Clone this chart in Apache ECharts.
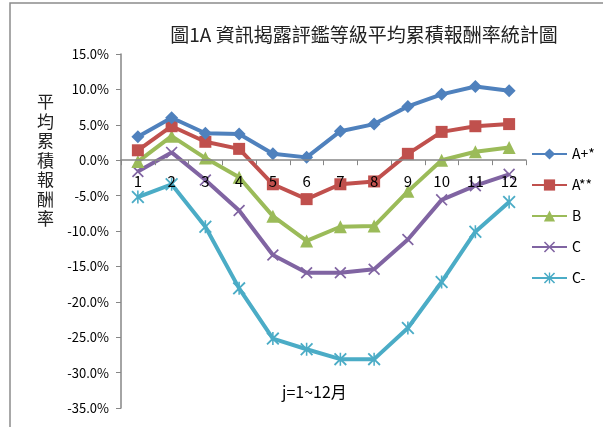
<!DOCTYPE html>
<html>
<head>
<meta charset="utf-8">
<script src="https://cdn.jsdelivr.net/npm/echarts@6/dist/echarts.min.js"></script>
<style>
    html, body { margin: 0; padding: 0; background: #fff; }
    #main { width: 603px; height: 427px; }
</style>
</head>
<body>
<div id="main"></div>
<script>
// months 1..12
var months = ['1', '2', '3', '4', '5', '6', '7', '8', '9', '10', '11', '12'];

// average cumulative return (%) per rating grade
var gradeAplus = [3.3, 6.0, 3.8, 3.7, 0.9, 0.4, 4.1, 5.1, 7.6, 9.3, 10.4, 9.8];
var gradeA = [1.4, 4.8, 2.6, 1.6, -3.4, -5.5, -3.4, -3.0, 0.9, 4.0, 4.8, 5.1];
var gradeB = [-0.2, 3.4, 0.3, -2.4, -7.9, -11.4, -9.4, -9.3, -4.4, 0.0, 1.2, 1.8];
var gradeC = [-1.6, 1.1, -2.8, -7.1, -13.4, -15.9, -15.9, -15.4, -11.2, -5.6, -3.6, -2.0];
var gradeCminus = [-5.2, -3.4, -9.4, -18.1, -25.2, -26.7, -28.1, -28.1, -23.7, -17.2, -10.1, -5.9];

var seriesNames = ['A+*', 'A**', 'B', 'C', 'C-'];
var colors = ['#4F81BD', '#C0504D', '#9BBB59', '#8064A2', '#4BACC6'];

var xMark = 'path://M0,1 L1,0 L5,4 L9,0 L10,1 L6,5 L10,9 L9,10 L5,6 L1,10 L0,9 L4,5 Z';
var starMark = 'path://M0,1 L1,0 L5,4 L9,0 L10,1 L6,5 L10,9 L9,10 L5,6 L1,10 L0,9 L4,5 Z M4.4,0 L5.6,0 L5.6,10 L4.4,10 Z';

var symbols = [
    { type: 'diamond', size: 13 },
    { type: 'rect', size: 12 },
    { type: 'triangle', size: 13 },
    { type: xMark, size: 12 },
    { type: starMark, size: 13 }
];

var font = '"Noto Sans CJK TC", "Noto Sans", sans-serif';

// y range of the grid, used to lift the category axis up to 0%
var yMin = -35, yMax = 15;
var gridTop = 54, gridBottom = 19;

function makeSeries(name, data, idx) {
    return {
        name: name,
        type: 'line',
        data: data,
        symbol: symbols[idx].type,
        symbolSize: symbols[idx].size,
        showAllSymbol: true,
        lineStyle: { width: 4, color: colors[idx] },
        itemStyle: { color: colors[idx] },
        emphasis: { disabled: true },
        z: 10 - idx
    };
}

var chart = echarts.init(document.getElementById('main'));
var plotH = 427 - gridTop - gridBottom;
var zeroOffset = plotH * (0 - yMin) / (yMax - yMin);

var opt = {
    animation: false,
    textStyle: { fontFamily: font },
    title: {
        text: '圖1A 資訊揭露評鑑等級平均累積報酬率統計圖',
        left: 359,
        textAlign: 'center',
        top: 20,
        textStyle: { fontSize: 19, fontWeight: 'normal', color: '#222', fontFamily: font }
    },
    legend: {
        orient: 'vertical',
        left: 526,
        top: 142,
        itemWidth: 35,
        itemHeight: 14,
        itemGap: 17,
        data: seriesNames,
        textStyle: { fontSize: 14, color: '#000', fontFamily: font }
    },
    grid: {
        left: 121,
        right: 77,
        top: gridTop,
        bottom: gridBottom,
        containLabel: false
    },
    graphic: [
        {
            type: 'rect',
            shape: { x: 10, y: 3, width: 800, height: 600 },
            style: { fill: 'none', stroke: '#8c8c8c', lineWidth: 1.5 },
            silent: true
        },
        {
            type: 'text',
            left: 37,
            top: 92,
            style: {
                text: '平\n均\n累\n積\n報\n酬\n率',
                fontSize: 17,
                lineHeight: 19.5,
                fill: '#222',
                fontFamily: font
            }
        },
        {
            type: 'text',
            left: 282,
            top: 384,
            style: {
                text: 'j=1~12月',
                fontSize: 16,
                fill: '#000',
                fontFamily: font
            }
        }
    ],
    xAxis: {
        type: 'category',
        data: months,
        boundaryGap: true,
        position: 'bottom',
        offset: -zeroOffset,
        z: 20,
        axisLine: { onZero: false, lineStyle: { color: '#868686', width: 1.5 } },
        axisTick: { show: true, alignWithLabel: false, length: 5, lineStyle: { color: '#868686' } },
        axisLabel: { color: '#000', fontSize: 15, margin: 14, interval: 0 }
    },
    yAxis: {
        type: 'value',
        min: yMin,
        max: yMax,
        interval: 5,
        axisLine: { show: true, lineStyle: { color: '#868686', width: 1.5 } },
        axisTick: { show: true, length: 5, lineStyle: { color: '#868686' } },
        splitLine: { show: false },
        axisLabel: {
            color: '#000',
            fontSize: 13,
            margin: 12,
            formatter: function (v) { return v.toFixed(1) + '%'; }
        }
    },
    series: [
        makeSeries(seriesNames[0], gradeAplus, 0),
        makeSeries(seriesNames[1], gradeA, 1),
        makeSeries(seriesNames[2], gradeB, 2),
        makeSeries(seriesNames[3], gradeC, 3),
        makeSeries(seriesNames[4], gradeCminus, 4)
    ]
};

chart.setOption(opt);
</script>
</body>
</html>
